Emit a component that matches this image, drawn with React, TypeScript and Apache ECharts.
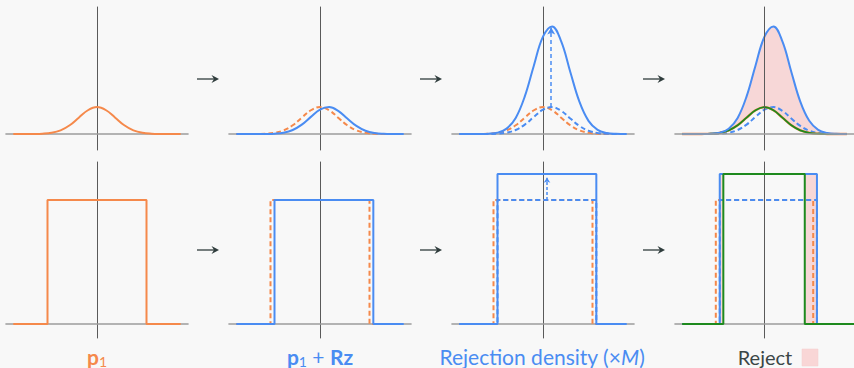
import React, { useEffect, useRef } from "react";
import * as echarts from "echarts";

// ---- data ----
const curveX = [-4.6, -4, -3.5, -3, -2.5, -2, -1.5, -1, -0.5, 0, 0.5, 1, 1.5, 2, 2.5, 3, 3.5, 4, 4.6];
const targetDensity = [0, 0.0001, 0.0009, 0.0044, 0.0175, 0.054, 0.1295, 0.242, 0.3521, 0.3989, 0.3521, 0.242, 0.1295, 0.054, 0.0175, 0.0044, 0.0009, 0.0001, 0];
const proposalDensity = [0, 0.00002, 0.0002, 0.001, 0.0051, 0.0198, 0.0596, 0.1394, 0.2541, 0.3605, 0.3984, 0.3429, 0.2299, 0.12, 0.0488, 0.0154, 0.0038, 0.0007, 0.0001];
const scaledProposal = [0, 0.0001, 0.0006, 0.0042, 0.0205, 0.0794, 0.2384, 0.5577, 1.0162, 1.4421, 1.5938, 1.3718, 0.9195, 0.48, 0.1952, 0.0618, 0.0152, 0.0029, 0.0003];
const gaussArrow = { x: 0.45, from: 0.3984, to: 1.58 };

const boxTargetX = [-4.6, -2.72, -2.72, 2.72, 2.72, 4.6];
const boxTargetY = [0, 0, 1, 1, 0, 0];
const boxProposalX = [-4.6, -2.5, -2.5, 2.93, 2.93, 4.6];
const boxProposalY = [0, 0, 1, 1, 0, 0];
const boxScaledY = [0, 0, 1.21, 1.21, 0, 0];
const boxAcceptX = [-4.6, -2.3, -2.3, 2.25, 2.25, 5];
const boxAcceptY = [0, 0, 1.21, 1.21, 0, 0];
const boxArrow = { x: 0.22, from: 1, to: 1.18 };
const boxRejectRanges = [[-2.5, -2.3], [2.25, 2.93]];
const boxRejectTop = 1.21;

const panelLabels = ["p1", "p1 + Rz", "Rejection density (×M)", "Reject"];

// ---- styles ----
const ORANGE = "#f5894b";
const BLUE = "#4a8cf2";
const GREEN = "#1e8a1e";
const PINK = "rgba(245,140,140,0.30)";
const BG = "#f8f8f8";
const FONT = "Lato, 'DejaVu Sans', sans-serif";

const pairs = (xs: number[], ys: number[]) => xs.map((x, i) => [x, ys[i]]);

export default function App() {
  const ref = useRef<HTMLDivElement>(null);
  useEffect(() => {
    if (!ref.current) return;
    const chart = echarts.init(ref.current, null, { renderer: "svg" });
    const lefts = [6, 229, 452, 675];
    const grids: any[] = [];
    const xAxes: any[] = [];
    const yAxes: any[] = [];
    for (let row = 0; row < 2; row++) {
      for (let c = 0; c < 4; c++) {
        const idx = row * 4 + c;
        const z = idx === 3 ? 6 : 0;
        grids.push(
          row === 0
            ? { left: lefts[c], width: 182, top: 7, height: 143 }
            : { left: lefts[c], width: 182, top: 162, height: 176 }
        );
        xAxes.push({
          type: "value", gridIndex: idx, min: -5, max: 5, z,
          axisLine: { show: true, onZero: true, lineStyle: { color: "#9c9c9c", width: 1.6 } },
          axisTick: { show: false }, axisLabel: { show: false }, splitLine: { show: false },
        });
        yAxes.push({
          type: "value", gridIndex: idx, z,
          min: row === 0 ? -0.237 : -0.113, max: row === 0 ? 1.882 : 1.306,
          axisLine: { show: true, onZero: true, lineStyle: { color: "#5a5a5a", width: 1 } },
          axisTick: { show: false }, axisLabel: { show: false }, splitLine: { show: false },
        });
      }
    }
    const line = (idx: number, data: any[], color: string, dashed = false, smooth = true, extra: any = {}) => ({
      type: "line", xAxisIndex: idx, yAxisIndex: idx, data, smooth: smooth ? 0.4 : false,
      symbol: "none", silent: true,
      lineStyle: { color, width: 2, type: dashed ? [5, 3] : "solid" },
      ...extra,
    });
    const P = pairs(curveX, targetDensity);
    const Q = pairs(curveX, proposalDensity);
    const MQ = pairs(curveX, scaledProposal);

    const series: any[] = [
      // top row
      line(0, P, ORANGE),
      line(1, P, ORANGE, true),
      line(1, Q, BLUE),
      line(2, P, ORANGE, true),
      line(2, Q, BLUE, true),
      line(2, MQ, BLUE, false, true, {
        markLine: {
          silent: true, symbol: ["none", "arrow"], symbolSize: [6, 7],
          label: { show: false },
          lineStyle: { color: BLUE, width: 1.5, type: [4, 3] },
          data: [[{ coord: [gaussArrow.x, gaussArrow.from] }, { coord: [gaussArrow.x, gaussArrow.to] }]],
        },
      }),
      // reject region: pink under M*q, covered below p
      line(3, MQ, BLUE, false, true, { lineStyle: { opacity: 0 }, areaStyle: { color: PINK, opacity: 1 } }),
      line(3, P, BG, false, true, { lineStyle: { opacity: 0 }, areaStyle: { color: BG, opacity: 1 } }),
      line(3, Q, BLUE, true),
      line(3, P, ORANGE, false, true, { lineStyle: { color: ORANGE, width: 2.4 } }),
      line(3, P, GREEN, false, true, { lineStyle: { color: GREEN, width: 1.8 } }),
      line(3, MQ, BLUE),
      // bottom row
      line(4, pairs(boxTargetX, boxTargetY), ORANGE, false, false),
      line(5, pairs(boxTargetX, boxTargetY), ORANGE, true, false),
      line(5, pairs(boxProposalX, boxProposalY), BLUE, false, false),
      line(6, pairs(boxTargetX, boxTargetY), ORANGE, true, false),
      line(6, pairs(boxProposalX, boxProposalY), BLUE, true, false),
      line(6, pairs(boxProposalX, boxScaledY), BLUE, false, false, {
        markLine: {
          silent: true, symbol: ["none", "arrow"], symbolSize: [5, 5],
          label: { show: false },
          lineStyle: { color: BLUE, width: 1.5, type: [3, 2] },
          data: [[{ coord: [boxArrow.x, boxArrow.from] }, { coord: [boxArrow.x, boxArrow.to] }]],
        },
      }),
      line(7, pairs(boxTargetX, boxTargetY), ORANGE, true, false, {
        markArea: {
          silent: true,
          itemStyle: { color: PINK },
          data: boxRejectRanges.map((r) => [
            { coord: [r[0], 0] },
            { coord: [r[1], boxRejectTop] },
          ]),
        },
      }),
      line(7, pairs(boxProposalX, boxProposalY), BLUE, true, false),
      line(7, pairs(boxProposalX, boxScaledY), BLUE, false, false),
      line(7, pairs(boxAcceptX, boxAcceptY), GREEN, false, false),
    ];

    const arrow = (x: number, y: number) => ({
      type: "group", x, y, silent: true,
      children: [
        { type: "line", shape: { x1: 0, y1: 0, x2: 19, y2: 0 }, style: { stroke: "#2f3c3c", lineWidth: 1.3 } },
        { type: "polygon", shape: { points: [[22, 0], [14.5, -4], [17, 0], [14.5, 4]] }, style: { fill: "#2f3c3c" } },
      ],
    });
    const graphics: any[] = [];
    [197, 420, 643].forEach((x) => {
      graphics.push(arrow(x, 79));
      graphics.push(arrow(x, 250));
    });
    const richBase = (fs: number) => ({
      b: { fontSize: fs, fontWeight: "bold", lineHeight: 24, fontFamily: FONT },
      n: { fontSize: fs, lineHeight: 24, fontFamily: FONT },
      s: { fontSize: 14, lineHeight: 13, verticalAlign: "bottom", fontFamily: FONT },
      i: { fontSize: fs, fontStyle: "italic", lineHeight: 24, fontFamily: FONT },
    });
    const label = (x: number, text: string, color: string, fs = 20) => ({
      type: "text", x, y: 356, silent: true,
      style: {
        text, fill: color, align: "center", verticalAlign: "middle", fontFamily: FONT, fontSize: fs,
        rich: Object.fromEntries(Object.entries(richBase(fs)).map(([k, v]) => [k, { ...v, color }])),
      },
    });
    graphics.push(label(97, "{b|p}{s|1}", ORANGE, 21));
    graphics.push(label(320, "{b|p}{s|1}{n| + }{b|Rz}", BLUE, 21));
    graphics.push(label(542, "{n|Rejection density (×}{i|M}{n|)}", BLUE, 21));
    graphics.push({
      type: "text", x: 765, y: 357, silent: true,
      style: { text: panelLabels[3], fill: "#3b4646", align: "center", verticalAlign: "middle", fontFamily: FONT, fontSize: 20 },
    });
    graphics.push({
      type: "rect", silent: true, shape: { x: 802, y: 349, width: 16, height: 17 },
      style: { fill: "#f9d6d6", stroke: "#f6cccc", lineWidth: 0.5 },
    });

    chart.setOption({
      animation: false,
      backgroundColor: BG,
      grid: grids,
      xAxis: xAxes,
      yAxis: yAxes,
      series,
      graphic: graphics,
    });
    return () => chart.dispose();
  }, []);
  return <div ref={ref} style={{ position: "fixed", left: 0, top: 0, width: 854, height: 368 }} />;
}
